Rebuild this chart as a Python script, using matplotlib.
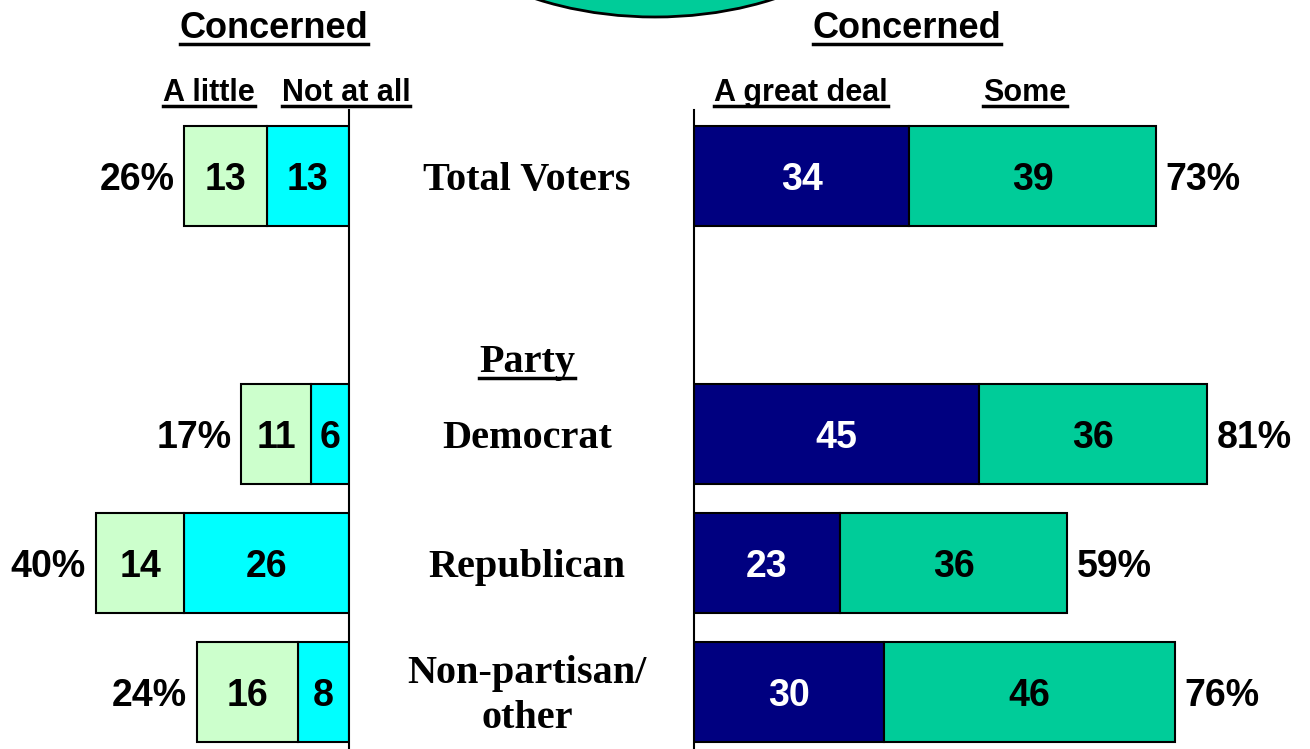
import matplotlib
matplotlib.use("Agg")
import matplotlib.pyplot as plt
from matplotlib.patches import Ellipse
from matplotlib.lines import Line2D
from matplotlib.transforms import blended_transform_factory

# ---------------- data ----------------
groups = ["Total Voters", "Democrat", "Republican", "Non-partisan/\nother"]
a_little = [13, 11, 14, 16]
not_at_all = [13, 6, 26, 8]
great_deal = [34, 45, 23, 30]
some = [39, 36, 36, 46]
unconcerned_total = [26, 17, 40, 24]
concerned_total = [73, 81, 59, 76]

# ---------------- layout ----------------
W, H = 1310, 749
row_pos = [0, 2, 3, 4]
party_pos = 1.41
bar_h = 0.77
ylim = (4.442, -1.364)
left_px, mid_left_px, mid_right_px = 0, 349, 694
px_per_unit = 6.33
dy = -3.0  # vertical text nudge, points

c_little = "#CCFFCC"
c_notall = "#00FFFF"
c_great = "#000080"
c_some = "#00CC99"

sans = "Liberation Sans"
serif = "Liberation Serif"

fig = plt.figure(figsize=(W / 100, H / 100), dpi=100)
fig.patch.set_facecolor("white")

# background/deco axes in pixel coordinates
ax_bg = fig.add_axes([0, 0, 1, 1])
ax_bg.set_xlim(0, W)
ax_bg.set_ylim(H, 0)
ax_bg.axis("off")
ax_bg.set_zorder(0)

ell = Ellipse((655, -133), 500, 300, facecolor=c_some, edgecolor="black", lw=2)
ax_bg.add_patch(ell)

# left axes (unconcerned)
ax_l = fig.add_axes([left_px / W, 0, (mid_left_px - left_px) / W, 1])
ax_l.set_xlim((mid_left_px - left_px) / px_per_unit, 0)
ax_l.set_ylim(*ylim)
# right axes (concerned)
ax_r = fig.add_axes([mid_right_px / W, 0, (W - mid_right_px) / W, 1])
ax_r.set_xlim(0, (W - mid_right_px) / px_per_unit)
ax_r.set_ylim(*ylim)

for ax in (ax_l, ax_r):
    ax.patch.set_alpha(0)
    ax.set_xticks([])
    ax.set_yticks([])
    for s in ax.spines.values():
        s.set_visible(False)
    ax.set_zorder(1)

ax_l.spines["right"].set_visible(True)
ax_l.spines["right"].set_bounds(-0.512, ylim[0])
ax_l.spines["right"].set_linewidth(1.5)
ax_r.spines["left"].set_visible(True)
ax_r.spines["left"].set_bounds(-0.512, ylim[0])
ax_r.spines["left"].set_linewidth(1.5)

fs_num = 27


def label(ax, x, y, s, dx=0, ha="center", color="black"):
    ax.annotate(s, (x, y), xytext=(dx, dy), textcoords="offset points",
                ha=ha, va="center", fontsize=fs_num, fontweight="bold",
                family=sans, color=color)


# left bars
ax_l.barh(row_pos, not_at_all, height=bar_h, left=0, color=c_notall,
          edgecolor="black", lw=1.5)
ax_l.barh(row_pos, a_little, height=bar_h, left=not_at_all, color=c_little,
          edgecolor="black", lw=1.5)
for y, n, l, t in zip(row_pos, not_at_all, a_little, unconcerned_total):
    label(ax_l, n / 2, y, f"{n}")
    label(ax_l, n + l / 2, y, f"{l}")
    label(ax_l, t, y, f"{t}%", dx=-7, ha="right")

# right bars
ax_r.barh(row_pos, great_deal, height=bar_h, left=0, color=c_great,
          edgecolor="black", lw=1.5)
ax_r.barh(row_pos, some, height=bar_h, left=great_deal, color=c_some,
          edgecolor="black", lw=1.5)
for y, g, s, t in zip(row_pos, great_deal, some, concerned_total):
    label(ax_r, g / 2, y, f"{g}", color="white")
    label(ax_r, g + s / 2, y, f"{s}")
    label(ax_r, g + s, y, f"{t}%", dx=7, ha="left")

# centre labels
trans_c = blended_transform_factory(ax_bg.transData, ax_r.transData)
for y, g in zip(row_pos, groups):
    ax_bg.annotate(g, (527, y), xycoords=trans_c, xytext=(0, dy),
                   textcoords="offset points", ha="center", va="center",
                   fontsize=29, fontweight="bold", family=serif,
                   linespacing=1.3)

underlined = []
underlined.append(ax_bg.annotate("Party", (527, party_pos), xycoords=trans_c,
                                 xytext=(0, dy), textcoords="offset points",
                                 ha="center", va="center", fontsize=29,
                                 fontweight="bold", family=serif))


# headers
def hdr(x, y, s, fs):
    t = ax_bg.text(x, y, s, ha="center", va="center", fontsize=fs,
                   fontweight="bold", family=sans)
    underlined.append(t)
    return t


hdr(274, 29, "Concerned", 26)
hdr(907, 29, "Concerned", 26)
hdr(209, 93, "A little", 22)
hdr(346, 93, "Not at all", 22)
hdr(801, 93, "A great deal", 22)
hdr(1025, 93, "Some", 22)

fig.canvas.draw()
renderer = fig.canvas.get_renderer()
for t in underlined:
    bb = t.get_window_extent(renderer)
    fs = t.get_fontsize()
    y_line = bb.y0 + fs * 0.10
    fig.add_artist(Line2D([bb.x0 / W, bb.x1 / W], [y_line / H, y_line / H],
                          transform=fig.transFigure, color="black", lw=2.5))

fig.savefig("out.png", dpi=100, facecolor="white")
